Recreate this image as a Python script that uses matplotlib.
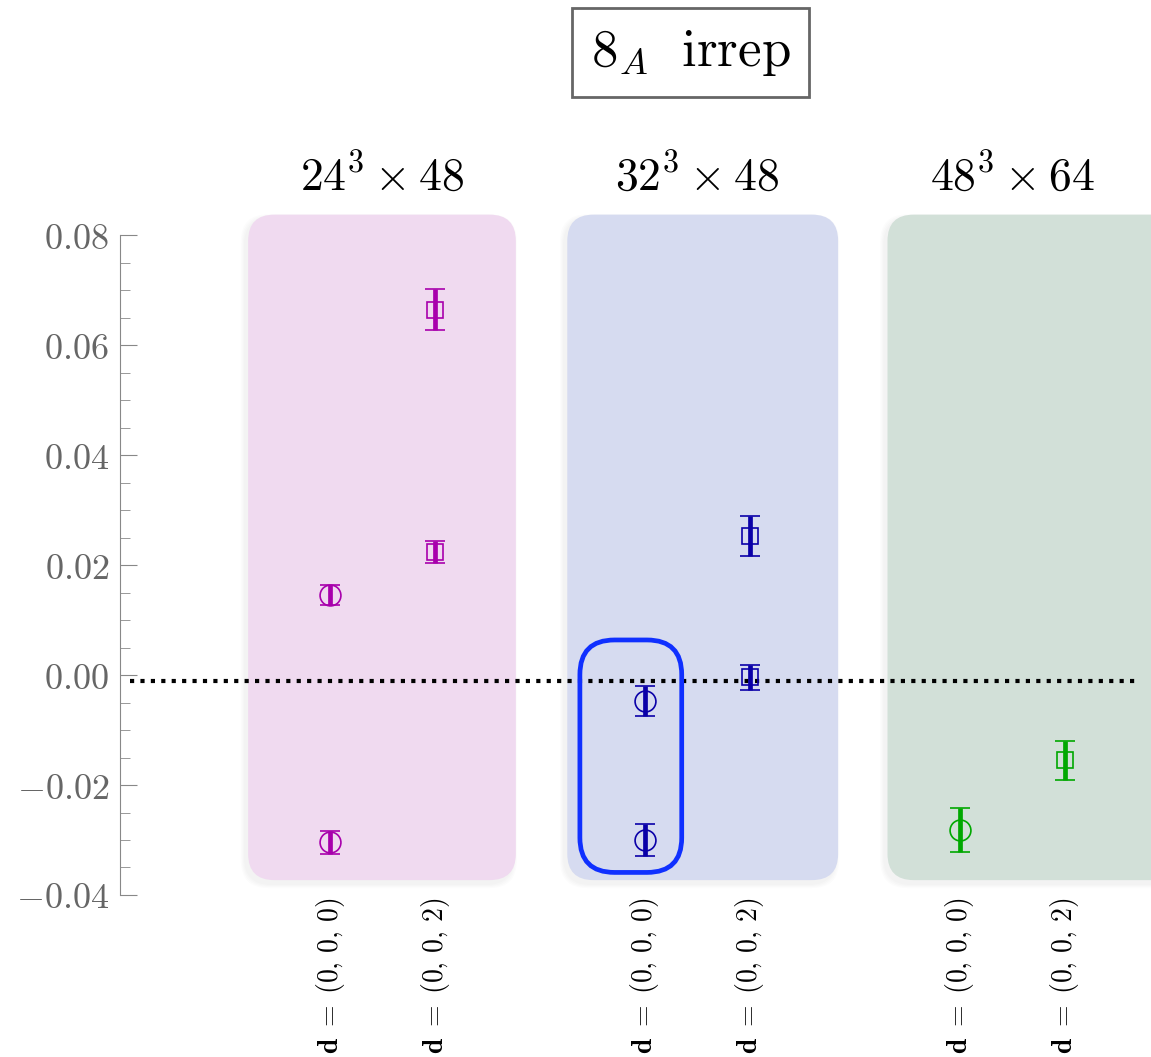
import numpy as np
import matplotlib.pyplot as plt
from matplotlib.patches import FancyBboxPatch
from matplotlib.ticker import FixedLocator, FuncFormatter

plt.rcParams['mathtext.fontset'] = 'cm'
plt.rcParams['font.family'] = 'serif'

# data
groups = ['$24^3 \\times 48$', '$32^3 \\times 48$', '$48^3 \\times 64$']
group_colors = ['#a800ac', '#0a00a8', '#00a800']
box_colors = ['#f0daf0', '#d6dbf0', '#d2e0d8']
box_left = [0.22, 3.26, 6.31]
box_width = [2.55, 2.58, 2.8]
mom_labels = ['$\\mathbf{d}\\;=\\;(0,\\,0,\\,0)$', '$\\mathbf{d}\\;=\\;(0,\\,0,\\,2)$']

# circle points (d=(0,0,0)) per group
circ_y = [[0.0146, -0.0304], [-0.0047, -0.0300], [-0.0282]]
circ_err = [[0.0018, 0.0021], [0.0027, 0.0030], [0.0040]]
# square points (d=(0,0,2)) per group
sq_y = [[0.0665, 0.0224], [0.0253, -0.0004], [-0.0155]]
sq_err = [[0.0037, 0.0020], [0.0036, 0.0023], [0.0035]]

ref_line = -0.0011

fig = plt.figure(figsize=(11.51, 10.57), dpi=100)
ax = fig.add_axes([0.1043, 0.1533, 0.8957, 0.6499])
ax.set_xlim(-1, 8.82)
ax.set_ylim(-0.04, 0.085)

asp = 105 / 5492.0
box_bot, box_h = -0.0373, 0.1211

for g in range(3):
    xl = box_left[g]
    # soft shadow, a few faint layers
    for k in range(4):
        d = 0.02 * (k + 1)
        sh = FancyBboxPatch((xl - 0.03 - d / 2, box_bot - 0.0007 - d * asp / 2),
                            box_width[g] + d, box_h + d * asp,
                            boxstyle='round,pad=0,rounding_size=0.26',
                            mutation_aspect=asp, fc='#000000', ec='none',
                            alpha=0.012, zorder=0, clip_on=False)
        ax.add_patch(sh)
    bx = FancyBboxPatch((xl, box_bot), box_width[g], box_h,
                        boxstyle='round,pad=0,rounding_size=0.25',
                        mutation_aspect=asp, fc=box_colors[g], ec='none',
                        zorder=1, clip_on=False)
    ax.add_patch(bx)
    xc = 3 * g + 1.5
    ax.text(xc, 0.0905, groups[g], ha='center', va='center', fontsize=33)

    col = group_colors[g]
    xs = 3 * g + 1
    ax.errorbar([xs] * len(circ_y[g]), circ_y[g], yerr=circ_err[g], fmt='o',
                mfc='none', mec=col, ms=15, mew=1.2, ecolor=col, elinewidth=3.4,
                capsize=7, capthick=5, zorder=5, clip_on=False)
    ax.errorbar([xs + 1] * len(sq_y[g]), sq_y[g], yerr=sq_err[g], fmt='s',
                mfc='none', mec=col, ms=12, mew=1.2, ecolor=col, elinewidth=3.4,
                capsize=7, capthick=5, zorder=5, clip_on=False)
    for k in range(2):
        ax.text(xs + k, -0.0405, mom_labels[k], rotation=90, ha='center',
                va='top', fontsize=20)

# highlight box
hl = FancyBboxPatch((3.38, -0.0359), 0.97, 0.0423,
                    boxstyle='round,pad=0,rounding_size=0.33',
                    mutation_aspect=asp, fc='none', ec='#1030ff', lw=3.4,
                    zorder=6)
ax.add_patch(hl)

ax.plot([-0.905, 8.71], [ref_line, ref_line], color='black', lw=3.0,
        linestyle=(0, (1, 1.5)), zorder=4, clip_on=False)

for s in ['top', 'right', 'bottom']:
    ax.spines[s].set_visible(False)
ax.spines['left'].set_bounds(-0.04, 0.08)
ax.spines['left'].set_color('#888888')
ax.set_xticks([])
ax.set_yticks(np.arange(-0.04, 0.0801, 0.02))
ax.yaxis.set_minor_locator(FixedLocator(np.arange(-0.04, 0.0801, 0.005)))
ax.yaxis.set_major_formatter(FuncFormatter(lambda v, p: '$%.2f$' % v if abs(v) > 1e-9 else '$0.00$'))
ax.tick_params(axis='y', which='major', direction='in', length=12, color='#888888',
               labelcolor='#666666', labelsize=26, pad=8)
ax.tick_params(axis='y', which='minor', direction='in', length=7, color='#888888')
ax.patch.set_alpha(0)

fig.text(0.6, 0.95, '$8_A\\ \\ \\mathrm{irrep}$', ha='center', va='center', fontsize=38,
         bbox=dict(boxstyle='square,pad=0.36', fc='white', ec='#666666', lw=2))

fig.savefig('out.png', dpi=100)
